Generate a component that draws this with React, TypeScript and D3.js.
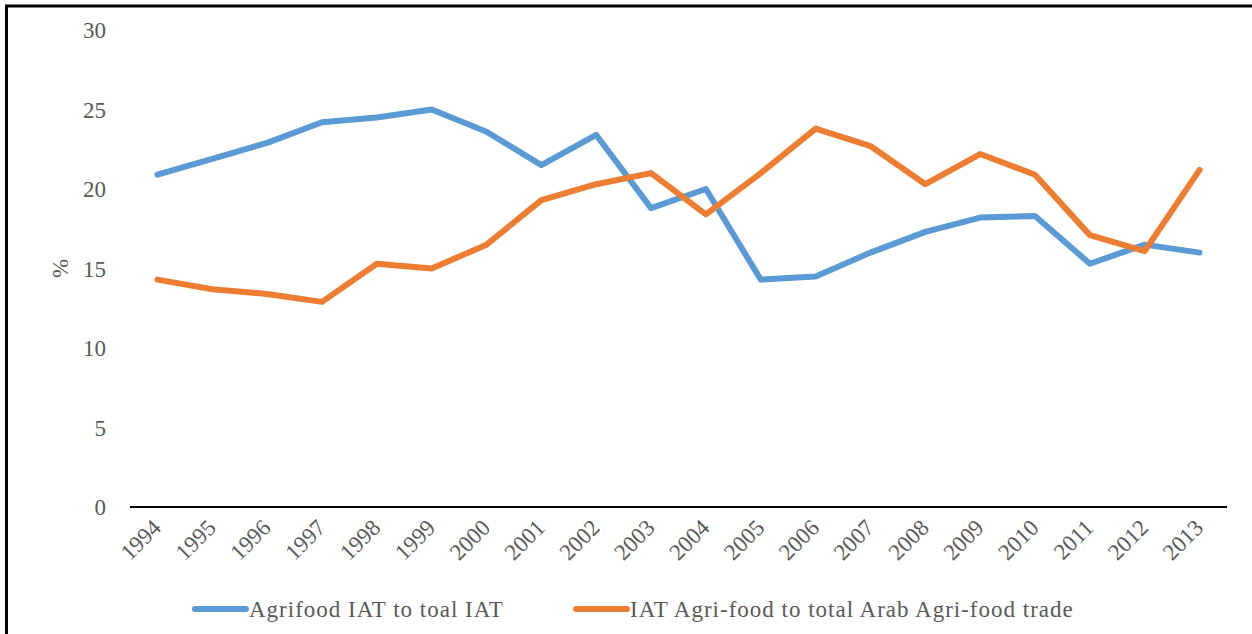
import React from "react";
import * as d3 from "d3";

const years = [
  "1994", "1995", "1996", "1997", "1998", "1999", "2000", "2001", "2002", "2003",
  "2004", "2005", "2006", "2007", "2008", "2009", "2010", "2011", "2012", "2013",
];
const agrifoodShare = [
  20.9, 21.9, 22.9, 24.2, 24.5, 25.0, 23.6, 21.5, 23.4, 18.8,
  20.0, 14.3, 14.5, 16.0, 17.3, 18.2, 18.3, 15.3, 16.5, 16.0,
];
const arabTradeShare = [
  14.3, 13.7, 13.4, 12.9, 15.3, 15.0, 16.5, 19.3, 20.3, 21.0,
  18.4, 21.0, 23.8, 22.7, 20.3, 22.2, 20.9, 17.1, 16.1, 21.2,
];
const yTicks = [0, 5, 10, 15, 20, 25, 30];
const seriesNames = ["Agrifood IAT to toal IAT", "IAT Agri-food to total Arab Agri-food trade"];
const seriesColors = ["#5B9BD5", "#ED7D31"];

const W = 1252;
const H = 634;
const font = "'Liberation Serif', 'Times New Roman', serif";

const App: React.FC = () => {
  const x = d3.scaleBand<string>().domain(years).range([130, 1227]);
  const y = d3.scaleLinear().domain([0, 30]).range([507, 30]);

  const line = d3
    .line<number>()
    .x((d, i) => (x(years[i]) as number) + x.bandwidth() / 2)
    .y((d) => y(d));

  const series = [agrifoodShare, arabTradeShare];
  const legendX = [193, 574];

  return (
    <svg
      width={W}
      height={H}
      style={{ position: "absolute", left: 0, top: 0, background: "#fff" }}
    >
      {/* frame (left and top edges only visible) */}
      <line x1={6.5} y1={5} x2={6.5} y2={H} stroke="#000" strokeWidth={3} />
      <line x1={5} y1={6} x2={W} y2={6} stroke="#000" strokeWidth={3} />

      {/* y tick labels */}
      {yTicks.map((t) => (
        <text
          key={t}
          x={106}
          y={y(t)}
          dy="0.35em"
          textAnchor="end"
          fontFamily={font}
          fontSize={23}
          fill="#595959"
        >
          {t}
        </text>
      ))}
      <text
        transform={`translate(60, ${y(15)}) rotate(-90)`}
        textAnchor="middle"
        dy="0.35em"
        fontFamily={font}
        fontSize={23}
        fill="#595959"
      >
        %
      </text>

      {/* x axis */}
      <line x1={130} x2={1227} y1={y(0)} y2={y(0)} stroke="#000" strokeWidth={2} />
      {years.map((yr) => {
        const cx = (x(yr) as number) + x.bandwidth() / 2;
        return (
          <text
            key={yr}
            transform={`translate(${cx + 5}, ${y(0) + 22}) rotate(-45)`}
            textAnchor="end"
            fontFamily={font}
            fontSize={23}
            fill="#595959"
          >
            {yr}
          </text>
        );
      })}

      {/* series */}
      {series.map((s, i) => (
        <path
          key={i}
          d={line(s) || ""}
          fill="none"
          stroke={seriesColors[i]}
          strokeWidth={6}
          strokeLinejoin="round"
          strokeLinecap="round"
        />
      ))}

      {/* legend */}
      {seriesNames.map((name, i) => (
        <g key={name} transform={`translate(${legendX[i]}, 609)`}>
          <line x1={2} x2={53} y1={0} y2={0} stroke={seriesColors[i]} strokeWidth={6} strokeLinecap="round" />
          <text
            x={56}
            y={0}
            dy="0.35em"
            fontFamily={font}
            fontSize={23}
            letterSpacing={1}
            fill="#595959"
          >
            {name}
          </text>
        </g>
      ))}
    </svg>
  );
};

export default App;
